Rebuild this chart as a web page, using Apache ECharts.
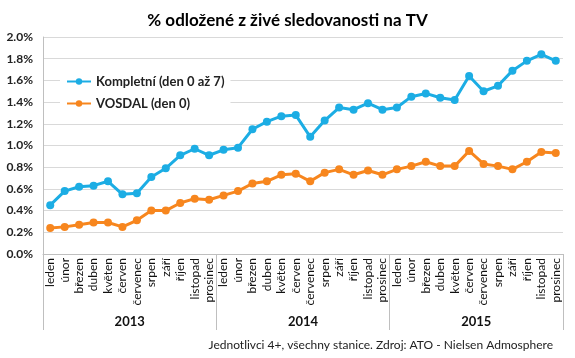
<!DOCTYPE html>
<html><head><meta charset="utf-8">
<script src="https://cdn.jsdelivr.net/npm/echarts@6/dist/echarts.min.js"></script>
<style>html,body{margin:0;padding:0;background:#fff}#c{width:575px;height:358px}</style>
</head><body><div id="c"></div>
<script>
const months = ['leden','únor','březen','duben','květen','červen','červenec','srpen','září','říjen','listopad','prosinec'];
const years = ['2013','2014','2015'];
const categories = [].concat(months, months, months);
const kompletni = [0.45,0.58,0.62,0.63,0.67,0.55,0.56,0.71,0.79,0.91,0.97,0.91,
                   0.96,0.98,1.15,1.22,1.27,1.28,1.08,1.23,1.35,1.33,1.39,1.33,
                   1.35,1.45,1.48,1.44,1.42,1.64,1.50,1.55,1.69,1.78,1.84,1.78];
const vosdal = [0.24,0.25,0.27,0.29,0.29,0.25,0.31,0.40,0.40,0.47,0.51,0.50,
                0.54,0.58,0.65,0.67,0.73,0.74,0.67,0.75,0.78,0.73,0.77,0.73,
                0.78,0.81,0.85,0.81,0.81,0.95,0.83,0.81,0.78,0.85,0.94,0.93];
const yTicks = {min:0, max:2.0, interval:0.2};
const FONT = 'Lato, "Open Sans", sans-serif';
const chart = echarts.init(document.getElementById('c'));
chart.setOption({
  animation:false,
  textStyle:{fontFamily:FONT},
  title:{text:'% odložené z živé sledovanosti na TV', left:'center', top:7,
    textStyle:{fontFamily:FONT, fontSize:17, fontWeight:'bold', color:'#000'}},
  legend:{orient:'vertical', left:60, top:71, itemGap:9, itemWidth:24, itemHeight:8,
    backgroundColor:'#fff', padding:[4,6,4,6],
    textStyle:{fontFamily:FONT, fontSize:13, fontWeight:'bold', color:'#222'},
    data:['Kompletní (den 0 až 7)','VOSDAL (den 0)']},
  grid:{left:43, right:12, top:37, bottom:104},
  xAxis:[{type:'category', data:categories, boundaryGap:true,
      axisLine:{lineStyle:{color:'#bfbfbf'}}, axisTick:{show:false},
      axisLabel:{rotate:90, interval:0, margin:4, fontFamily:FONT, fontSize:12, color:'#111'}},
    {type:'category', data:years, position:'bottom', boundaryGap:true,
      axisLine:{show:false}, axisTick:{show:true, length:76, lineStyle:{color:'#bfbfbf'}},
      axisLabel:{margin:61, fontFamily:FONT, fontSize:13, fontWeight:'bold', color:'#111'}}],
  yAxis:{type:'value', min:yTicks.min, max:yTicks.max, interval:yTicks.interval,
    axisLine:{show:true, lineStyle:{color:'#bfbfbf'}},
    splitLine:{lineStyle:{color:'#d9d9d9'}},
    axisLabel:{formatter:v=>v.toFixed(1)+'%', fontFamily:FONT, fontSize:12, fontWeight:'bold', color:'#222', margin:10}},
  series:[
    {name:'Kompletní (den 0 až 7)', type:'line', data:kompletni, symbol:'circle', symbolSize:8,
      lineStyle:{width:3, color:'#1cade4'}, itemStyle:{color:'#1cade4'}},
    {name:'VOSDAL (den 0)', type:'line', data:vosdal, symbol:'circle', symbolSize:8,
      lineStyle:{width:3, color:'#f7861e'}, itemStyle:{color:'#f7861e'}}
  ],
  graphic:[{type:'text', right:22, top:339,
    style:{text:'Jednotlivci 4+, všechny stanice. Zdroj: ATO - Nielsen Admosphere',
      font:'12px '+FONT, fill:'#222'}}]
});
</script></body></html>
